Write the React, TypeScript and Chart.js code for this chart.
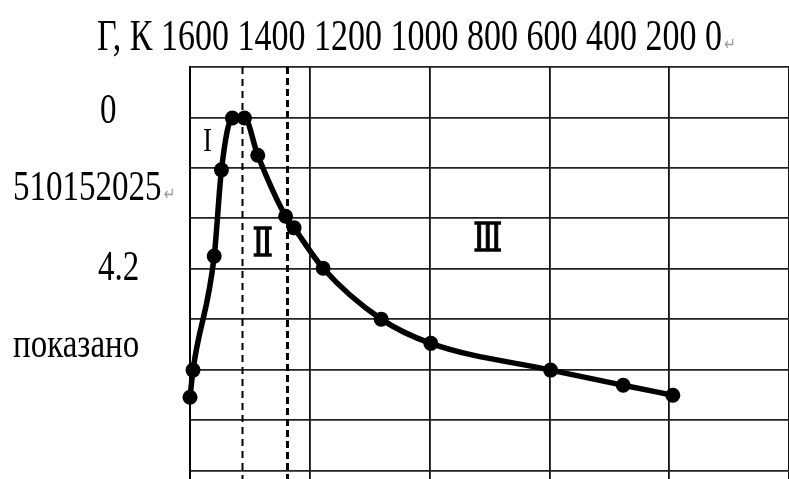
import React, { useEffect, useRef } from "react";
import { Chart, registerables } from "chart.js";

Chart.register(...registerables);

// ---- data (x in grid units ×100, y in grid units, 0 at top) ----
const xValues = [0, 2.5, 20, 26, 35, 45, 56, 79, 86, 110, 158, 199, 298, 358, 399];
const yValues = [6.55, 6.01, 3.75, 2.04, 1.01, 1.01, 1.75, 2.96, 3.19, 3.99, 5.0, 5.48, 6.01, 6.31, 6.51];
const regionBounds = [43, 80];
const regionLabels = ["I", "Ⅱ", "Ⅲ"];
const topLine = "Г, К 1600 1400 1200 1000 800 600 400 200 0";
const leftTexts = ["0", "510152025", "4.2", "показано"];

// ---- annotation layout ----
const regionLabelPos = [
  [14.5, 1.48],
  [60, 3.55],
  [246, 3.45],
];
const leftTextPos = [
  [100, 123],
  [13, 200],
  [98, 280],
  [13, 357],
];
const SY = 1.28;
const SERIF = '"Liberation Serif", "Times New Roman", "DejaVu Serif", serif';

const overlay = {
  id: "overlay",
  beforeDatasetsDraw(chart: any) {
    const { ctx, chartArea, scales } = chart;
    ctx.save();
    regionBounds.forEach((b, i) => {
      const px = Math.round(scales.x.getPixelForValue(b)) + 0.5;
      ctx.beginPath();
      ctx.setLineDash(i === 0 ? [7, 5] : [7, 4]);
      ctx.lineWidth = i === 0 ? 2 : 3;
      ctx.strokeStyle = "#000";
      ctx.moveTo(px, chartArea.top);
      ctx.lineTo(px, chartArea.bottom);
      ctx.stroke();
    });
    ctx.restore();
  },
  afterDraw(chart: any) {
    const { ctx, scales } = chart;
    ctx.save();
    ctx.scale(1, SY);
    ctx.fillStyle = "#000";
    ctx.strokeStyle = "#000";
    ctx.textBaseline = "alphabetic";
    ctx.textAlign = "left";
    const mark = (px: number, base: number) => {
      ctx.save();
      ctx.fillStyle = "#9a9a9a";
      ctx.font = '14px "DejaVu Sans", sans-serif';
      ctx.fillText("↵", px, base / SY);
      ctx.restore();
    };
    ctx.font = "34px " + SERIF;
    ctx.fillText(topLine, 97, 50 / SY);
    mark(97 + ctx.measureText(topLine).width + 2, 50);
    ctx.font = "33px " + SERIF;
    leftTexts.forEach((t, i) => {
      const [lx, base] = leftTextPos[i];
      ctx.fillText(t, lx, base / SY);
      if (i === 1) mark(lx + ctx.measureText(t).width + 2, base);
    });
    ctx.textAlign = "center";
    ctx.textBaseline = "middle";
    regionLabels.forEach((t, i) => {
      const [dx, dy] = regionLabelPos[i];
      const px = scales.x.getPixelForValue(dx);
      const py = scales.y.getPixelForValue(dy);
      ctx.font = (i === 0 ? "27px " : "30px ") + SERIF;
      ctx.fillText(t, px, py / SY);
      if (i > 0) {
        ctx.lineWidth = 1;
        ctx.strokeText(t, px, py / SY);
      }
    });
    ctx.restore();
  },
};

export default function App() {
  const ref = useRef<HTMLCanvasElement | null>(null);
  useEffect(() => {
    if (!ref.current) return;
    const chart = new Chart(ref.current, {
      type: "line",
      data: {
        datasets: [
          {
            data: xValues.map((x, i) => ({ x, y: yValues[i] })),
            borderColor: "#000",
            backgroundColor: "#000",
            borderWidth: 5.5,
            pointRadius: 7.5,
            pointHoverRadius: 7.5,
            pointBackgroundColor: "#000",
            pointBorderWidth: 0,
            cubicInterpolationMode: "monotone",
            clip: false,
          },
        ],
      },
      options: {
        responsive: false,
        animation: false,
        events: [],
        layout: { autoPadding: false, padding: { left: 190, top: 67, right: 0, bottom: 0 } },
        plugins: { legend: { display: false }, tooltip: { enabled: false }, title: { display: false } },
        scales: {
          x: {
            type: "linear",
            bounds: "data",
            min: 0,
            max: 495,
            ticks: { display: false, stepSize: 100, includeBounds: false },
            grid: { color: "#111", lineWidth: 1.8, drawTicks: false },
            border: { display: false },
          },
          y: {
            type: "linear",
            bounds: "data",
            reverse: true,
            min: 0,
            max: 8.17,
            ticks: { display: false, stepSize: 1, includeBounds: false },
            grid: { color: "#222", lineWidth: 1.8, drawTicks: false },
            border: { display: true, color: "#000", width: 2 },
          },
        },
      },
      plugins: [overlay],
    } as any);
    return () => chart.destroy();
  }, []);
  return (
    <div style={{ position: "fixed", left: 0, top: 0, width: 789, height: 479, background: "#fff" }}>
      <canvas ref={ref} width={789} height={479} style={{ display: "block" }} />
    </div>
  );
}
